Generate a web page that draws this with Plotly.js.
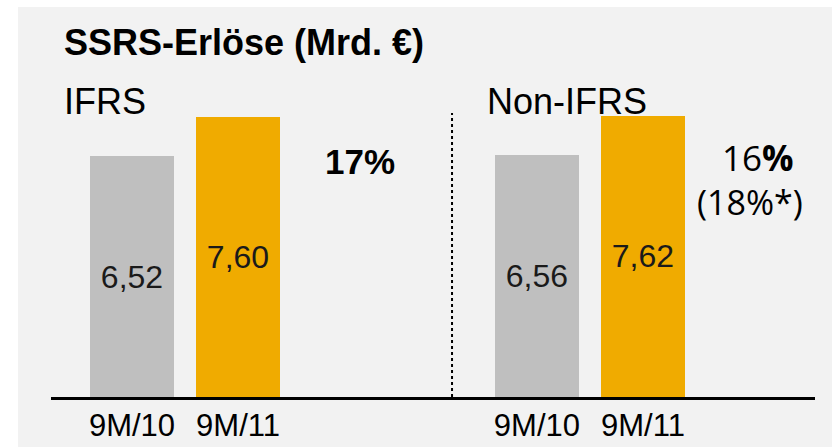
<!DOCTYPE html>
<html>
<head>
<meta charset="utf-8">
<script src="https://cdn.plot.ly/plotly-3.0.1.min.js"></script>
<style>html,body{margin:0;padding:0;background:#fff;}#chart{width:832px;height:447px;}</style>
</head>
<body>
<div id="chart"></div>
<script>
// ---- data ----
const title = "SSRS-Erlöse (Mrd. €)";
const categories = ["9M/10", "9M/11"];
const groups = ["IFRS", "Non-IFRS"];
const ifrs = [6.52, 7.60];
const nonIfrs = [6.56, 7.62];
const growthIfrs = "<b>17%</b>";
const growthNonIfrs = "16<b>%</b>";
const growthNonIfrsAdj = "(18%*)";
const valueLabels = [["6,52", "7,60"], ["6,56", "7,62"]];

// ---- layout helpers ----
const W = 832, H = 447;
const M = {l: 51, r: 17, t: 7, b: 50};
const PW = W - M.l - M.r, PH = H - M.t - M.b;
const px = x => (x - M.l) / PW;
const py = y => (H - M.b - y) / PH;

const groupOffset = [0, 3.82];
const seriesByGroup = [ifrs, nonIfrs];
const colors = ["#bfbfbf", "#f0ab00"];
const font = "Liberation Sans, Arial, sans-serif";

const traces = categories.map((cat, i) => ({
  type: "bar",
  name: cat,
  x: groupOffset.map(o => o + i),
  y: seriesByGroup.map(s => s[i]),
  width: 0.792,
  marker: {color: colors[i], line: {width: 0}},
  text: valueLabels.map(v => v[i]),
  textposition: "inside",
  insidetextanchor: "middle",
  textangle: 0,
  constraintext: "none",
  textfont: {family: font, size: 32, color: "#1a1a1a"},
  hoverinfo: "skip"
}));

const tickvals = [], ticktext = [];
groupOffset.forEach(o => categories.forEach((c, i) => { tickvals.push(o + i); ticktext.push(c); }));

const layout = {
  width: W, height: H,
  margin: M,
  paper_bgcolor: "#ffffff",
  plot_bgcolor: "#f2f2f2",
  showlegend: false,
  bargap: 0,
  xaxis: {
    range: [-0.764, 6.443], showgrid: false, zeroline: false, showline: false,
    tickvals: tickvals, ticktext: ticktext, ticks: "outside", ticklen: 1, tickcolor: "rgba(0,0,0,0)",
    tickfont: {family: font, size: 31, color: "#000"}, fixedrange: true
  },
  yaxis: {range: [0, 10.57], visible: false, fixedrange: true},
  shapes: [
    {type: "rect", xref: "paper", yref: "paper", x0: px(18), x1: px(834), y0: py(7), y1: py(449),
     fillcolor: "#f2f2f2", line: {width: 0}, layer: "below"},
    {type: "line", xref: "paper", yref: "paper", x0: 0, x1: 1, y0: py(398.5), y1: py(398.5),
     line: {color: "#000", width: 3}},
    {type: "line", xref: "x", yref: "paper", x0: 3.019, x1: 3.019, y0: py(397), y1: py(113),
     line: {color: "#000", width: 2, dash: "dot"}}
  ],
  annotations: [
    {text: "<b>" + title + "</b>", xref: "paper", yref: "paper", x: px(62), y: py(42), xanchor: "left", yanchor: "middle",
     showarrow: false, font: {family: font, size: 36, color: "#000"}},
    {text: groups[0], xref: "paper", yref: "paper", x: px(62), y: py(101), xanchor: "left", yanchor: "middle",
     showarrow: false, font: {family: font, size: 36, color: "#000"}},
    {text: groups[1], xref: "paper", yref: "paper", x: px(485), y: py(101), xanchor: "left", yanchor: "middle",
     showarrow: false, font: {family: font, size: 36, color: "#000"}},
    {text: growthIfrs, xref: "paper", yref: "paper", x: px(360), y: py(161), xanchor: "center", yanchor: "middle",
     showarrow: false, font: {family: font, size: 35, color: "#000"}},
    {text: growthNonIfrs, xref: "paper", yref: "paper", x: px(758), y: py(158), xanchor: "center", yanchor: "middle",
     showarrow: false, font: {family: "Open Sans, Noto Sans, sans-serif", size: 35, color: "#000"}},
    {text: growthNonIfrsAdj, xref: "paper", yref: "paper", x: px(750), y: py(202), xanchor: "center", yanchor: "middle",
     showarrow: false, font: {family: "Open Sans, Noto Sans, sans-serif", size: 34, color: "#000"}}
  ]
};

Plotly.newPlot("chart", traces, layout, {staticPlot: true, displayModeBar: false});
</script>
</body>
</html>
